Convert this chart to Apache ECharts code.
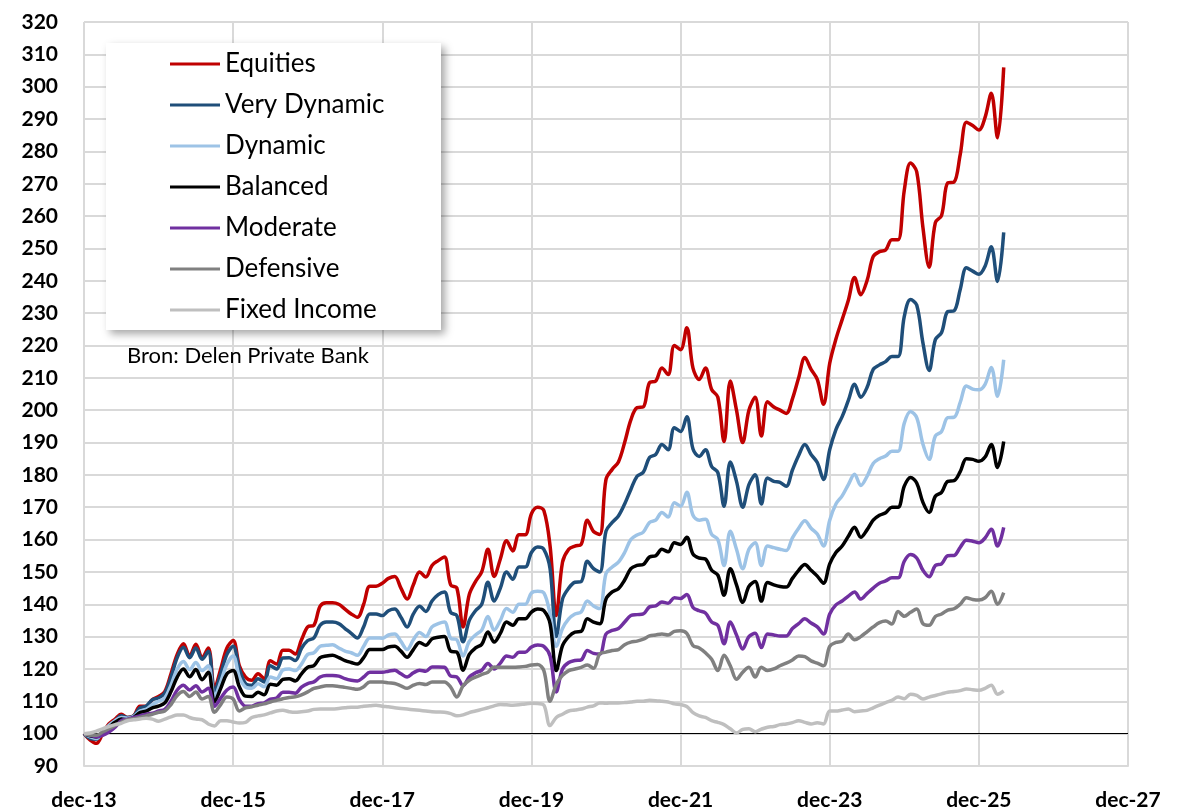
<!DOCTYPE html>
<html lang="nl">
<head>
<meta charset="UTF-8">
<title>Delen Private Bank - profielen</title>
<script src="https://cdn.jsdelivr.net/npm/echarts@6/dist/echarts.min.js"></script>
</head>
<body style="margin:0;background:#fff">
<div id="chart" style="width:1188px;height:811px;"></div>
<script>
// monthly index values, dec-13 = 100
const seriesNames = ['Equities', 'Very Dynamic', 'Dynamic', 'Balanced', 'Moderate', 'Defensive', 'Fixed Income'];
const seriesColors = ['#C00000', '#1F4E79', '#9DC3E6', '#000000', '#7030A0', '#808080', '#BFBFBF'];

const equities = [
  100, 98, 97, 100, 103, 104.5, 106, 105, 105.5, 108.5, 108.5, 110.5,
  111.5, 113, 118.5, 124.5, 127.8, 124, 127.6, 123.5, 126.5, 114, 120, 126.5,
  128.8, 121, 117.5, 116.5, 118.5, 117, 122.5, 121.5, 125.8, 125.8, 124.6, 129,
  133, 133.5, 139.4, 140.5, 140.5, 140, 138.5, 137, 136, 140, 145.6, 145.6,
  146.5, 148, 148.6, 145, 141.6, 146, 150, 148.4, 152, 153.5, 154.6, 146,
  145, 133, 143, 147, 150, 157, 148.6, 154, 159.6, 156.5, 161.5, 161.5,
  168, 170, 169, 158, 136.5, 153, 157, 158, 158.5, 166, 162.5, 161.6,
  178.6, 181.7, 184, 190, 197, 200.8, 201, 208.5, 209, 213, 211, 220,
  218.7, 225.5, 213, 209.5, 213, 206.4, 204, 190.3, 209, 200, 190, 200,
  204, 192, 202.6, 201, 200, 199, 203.5, 210, 216.3, 212.6, 209.5, 201.8,
  214.5, 222, 228, 234, 241, 235.7, 240, 247.5, 249, 249.5, 252.7, 252.7,
  268, 276.4, 273.7, 256.5, 244.2, 258, 260.2, 270.3, 270.5, 279, 289, 288,
  286.6, 290.5, 298, 284.2, 306
];
const veryDynamic = [
  100, 98.5, 98.3, 100.5, 102.5, 104, 105.5, 105, 105.5, 108, 108.5, 110.5,
  111, 112.5, 117.5, 123.5, 126.7, 123.5, 126.5, 123, 125.5, 113, 118.5, 124.5,
  127, 120, 115.5, 115, 117, 116, 121, 120, 123.4, 123.5, 122.6, 126.4,
  128.8, 129.6, 133.5, 134.5, 134.5, 134, 132.5, 131, 129.6, 133, 137, 137,
  136.5, 138, 138.5, 136, 133, 137, 139.4, 137.8, 141, 143, 143.8, 137.5,
  136.5, 128.4, 135, 138, 140, 146.8, 141, 145, 150, 147.7, 151.5, 151.5,
  156, 157.7, 157, 151, 130, 141.6, 145, 146.8, 147, 153.3, 151, 150,
  162.6, 165.3, 167.3, 171, 175.5, 179.6, 180.8, 185.4, 186.3, 189.4, 187.8, 194.6,
  193.4, 198, 188, 185.7, 187.8, 182.6, 180.7, 170.3, 184, 178, 170, 177,
  180, 171, 179, 178, 177.7, 176.5, 181.5, 186, 189.4, 186.3, 183.8, 178.6,
  187.8, 194, 198, 203, 208, 204, 207, 212.6, 214, 215, 216.6, 216.6,
  229, 234.2, 232.5, 220.8, 212.3, 221.8, 224, 230.5, 230.7, 237.3, 244, 243,
  242, 244.5, 250.5, 239.8, 255
];
const dynamic = [
  100, 99, 98.5, 100.5, 102.5, 104, 105, 104.8, 105.3, 107, 107.5, 109,
  110, 111, 115, 120, 122.3, 119.8, 122, 119.5, 121, 111.5, 116, 121.5,
  124, 117.5, 114.4, 114, 115.4, 114.5, 117.5, 117, 119.7, 120, 119.5, 121.5,
  124.5, 125, 127, 127.3, 127.5, 126.5, 125.5, 125, 124.2, 127, 129.6, 129.6,
  129.5, 130.5, 130.8, 128.5, 126, 129, 131.3, 130, 133, 134, 134.5, 129.5,
  129, 124, 128.5, 130.5, 132, 136.2, 132, 135, 138.7, 137.5, 140, 140,
  143.5, 144, 143.5, 137, 127, 132.5, 135.5, 137, 137.6, 141, 139.5, 138.7,
  149.5, 151.5, 153, 156, 160, 161.4, 162.3, 165.3, 166, 168.4, 167, 171.4,
  170.3, 174.6, 167.5, 166, 166.3, 161.6, 160, 152, 162.6, 157, 151, 157,
  159, 152, 158, 157.5, 157, 156.6, 160.5, 163.5, 165.8, 163.5, 161.7, 158,
  166, 171, 173.5, 177, 180.2, 176.7, 179.5, 183.5, 185, 185.8, 187.3, 187.3,
  196, 199.6, 197.7, 189.5, 184.8, 192, 193.4, 197.7, 197.8, 202.4, 207.5, 206.5,
  206.3, 208, 213.2, 204.3, 215.6
];
const balanced = [
  100, 99.3, 99, 100.5, 102, 103.5, 104.5, 104.3, 105, 106.5, 107, 108,
  108.5, 109.5, 113, 117.5, 120, 117.6, 119.8, 116.7, 119, 109.8, 114, 118.5,
  119.5, 114.5, 111.6, 111.5, 112.8, 112, 115.3, 115, 116.8, 117, 116.3, 118.5,
  120.5, 121, 123.5, 124, 124.2, 123.5, 122.6, 122, 121.5, 123.5, 126, 126,
  126, 126.8, 127, 125.5, 123.6, 126, 128.2, 127.3, 129.3, 129.8, 130, 125.5,
  125.2, 119.6, 124.5, 126.5, 127.6, 131.4, 128.3, 131, 134.5, 133.5, 135.5, 135.5,
  137.6, 138.5, 138, 134, 119.5, 127.2, 130, 131.4, 131.6, 135.5, 134.5, 134,
  141.6, 143.8, 144.8, 147.5, 151, 152, 152.3, 154.6, 155, 157, 156.2, 159,
  158.5, 160.7, 155.5, 154.3, 154, 150.5, 149, 142.8, 151, 146, 140.6, 145.5,
  147, 141, 146.7, 146, 145.5, 145.3, 148, 150.5, 152.3, 150.5, 148.7, 146.5,
  152.5, 156, 158, 161, 163.8, 160.7, 163, 166, 167.5, 168.3, 170, 170,
  176.5, 179.2, 177.5, 171.5, 168.4, 173.4, 174.6, 178, 178.2, 181, 185, 184.8,
  184.2, 185.5, 189.4, 182.3, 190.3
];
const moderate = [
  100, 99.5, 99, 99.5, 100.5, 102, 104, 104.5, 105, 105.5, 106, 106.3,
  107, 107.5, 110, 113.5, 115, 113.5, 114.8, 112.9, 114, 108.5, 111, 113.5,
  114.4, 110.5, 108.5, 108.5, 109.3, 109.5, 110.7, 111, 112.8, 112.8, 112.5, 114.4,
  115.5, 116, 117.5, 118, 118, 117.8, 117, 116.5, 116.3, 117.5, 119, 119,
  119, 119.3, 119.6, 118.5, 117.5, 118.8, 119.6, 119.3, 120.6, 120.6, 120.5, 117.8,
  117.5, 114.8, 117.5, 118.8, 119.6, 121.7, 120, 121.8, 124, 123.6, 125.2, 125.2,
  126.8, 127.4, 127, 124, 112.9, 120, 122, 122.6, 122.8, 125.7, 124.8, 124.6,
  130.8, 131.9, 132.5, 134.5, 136.5, 136.8, 137, 139.2, 139.5, 140.7, 140.3, 142,
  141.8, 143, 139, 138, 137.3, 134.5, 133.5, 127.8, 134.5, 130.5, 126.2, 130,
  131, 126.6, 130.8, 130.5, 130.2, 130.2, 132.5, 134, 135.5, 134.2, 133, 130.8,
  137, 139.8, 141, 142.5, 143.8, 141.6, 143.3, 145, 146.5, 147.2, 148.2, 148.2,
  153.3, 155.4, 154.3, 150.5, 148.5, 152, 152.5, 155, 155.1, 157.6, 159.8, 159.5,
  159, 160.5, 163.2, 158, 163.8
];
const defensive = [
  100, 99.5, 99.5, 100.5, 101.5, 102.5, 103.5, 104.3, 104.6, 105, 105.5, 106,
  106.6, 107, 109, 111.8, 113, 111.5, 112.9, 110.7, 111.5, 106.6, 109, 111.3,
  110.7, 107, 108, 108.3, 108.8, 109.2, 109.8, 110.3, 110.8, 111.2, 111.4, 112,
  112.9, 114, 114.4, 114.8, 114.8, 114.6, 114.3, 114, 113.7, 114.5, 116, 116,
  116, 115.7, 115.5, 114.8, 114, 115, 115.5, 115.2, 116, 116, 116, 114.4,
  111.3, 114.8, 116.5, 117.5, 118.3, 119, 120.6, 120.5, 120.5, 120.5, 120.6, 120.8,
  121.2, 121.4, 119.5, 110, 115.3, 118, 119.5, 120, 120.5, 121.2, 120.2, 124.7,
  125.2, 125.7, 126, 127.5, 128.3, 128.6, 129.2, 130.2, 130.5, 130.8, 130.5, 131.6,
  131.8, 131, 127.2, 126.5, 125, 123, 119.5, 124.2, 121, 116.8, 119, 120.5,
  117.5, 120.5, 119.5, 120, 121, 121.8, 122.8, 124, 123.8, 122.5, 121.8, 121,
  127, 128.2, 128.6, 130.8, 129, 130, 131.5, 133, 134.3, 134.8, 133.9, 137.8,
  136.3, 137.5, 138.5, 134, 133.5, 136.2, 137, 138.2, 138.6, 140, 142, 141.5,
  141.3, 142, 144, 140, 143.6
];
const fixedIncome = [
  100, 100.2, 100.8, 101.5, 102.2, 102.8, 103.2, 104, 104.3, 104.5, 104.8, 104.5,
  103.8, 104.5, 105.2, 105.8, 105.8, 105, 104.5, 104.3, 103, 102.4, 104, 104,
  103.6, 103.3, 103.5, 105, 105.5, 105.8, 106.4, 107, 107.2, 106.8, 106.6, 106.8,
  107, 107.5, 107.6, 107.6, 107.6, 107.8, 108, 108.2, 108.2, 108.5, 108.6, 108.8,
  108.5, 108.3, 108, 107.8, 107.6, 107.4, 107.2, 107, 106.8, 106.7, 106.6, 106.2,
  105.5, 105.8, 106.5, 107, 107.5, 108, 108.6, 109, 108.9, 108.8, 108.9, 109.2,
  109.4, 109.3, 108.8, 102.5, 105, 106, 107, 107.3, 107.6, 108.2, 108.6, 109.5,
  109.4, 109.5, 109.5, 109.6, 109.8, 110, 110, 110.3, 110.2, 110, 109.8, 109.2,
  109, 108.4, 106.5, 105.5, 105, 104, 103.5, 102.8, 101.5, 100.2, 101.3, 101.5,
  100.6, 101.4, 102, 102.2, 102.8, 103, 103.4, 104, 103.5, 103, 103.4, 103,
  107, 107, 107.3, 107.6, 106.8, 107, 107.2, 108, 108.8, 109.6, 110.3, 111.3,
  110.8, 112.2, 111.8, 110.7, 111.3, 111.8, 112.3, 112.8, 113, 113.3, 113.8, 113.6,
  113.4, 114, 115, 112.2, 113.2
];

// month categories dec-13 .. dec-27
const monthNames = ['jan', 'feb', 'mrt', 'apr', 'mei', 'jun', 'jul', 'aug', 'sep', 'okt', 'nov', 'dec'];
const months = [];
for (let i = 0; i <= 168; i++) {
  const m = (11 + i) % 12;
  const y = 13 + Math.floor((11 + i) / 12);
  months.push(monthNames[m] + '-' + y);
}

const allData = [equities, veryDynamic, dynamic, balanced, moderate, defensive, fixedIncome];
const font = 'Lato';

const chart = echarts.init(document.getElementById('chart'));
const series = seriesNames.map((name, k) => ({
  name: name,
  type: 'line',
  data: allData[k],
  smooth: 0.35,
  symbol: 'none',
  lineStyle: { color: seriesColors[k], width: 3.5 },
  itemStyle: { color: seriesColors[k] },
  z: 3 + k
}));
// base line at 100
series[0].markLine = {
  silent: true,
  symbol: 'none',
  label: { show: false },
  lineStyle: { color: '#000', width: 1.2, type: 'solid' },
  data: [{ yAxis: 100 }]
};

chart.setOption({
  animation: false,
  textStyle: { fontFamily: font },
  grid: { left: 84, right: 60, top: 22, bottom: 44 },
  title: {
    text: 'Bron: Delen Private Bank',
    left: 122, top: 340,
    textStyle: { fontFamily: font, fontSize: 22, fontWeight: 'normal', color: '#000' }
  },
  graphic: [{
    type: 'rect',
    z: 10,
    shape: { x: 106, y: 43, width: 335, height: 287 },
    style: {
      fill: '#fff',
      shadowBlur: 8,
      shadowOffsetX: 4,
      shadowOffsetY: 4,
      shadowColor: 'rgba(0,0,0,0.35)'
    }
  }],
  legend: {
    z: 20,
    orient: 'vertical',
    left: 165, top: 44,
    icon: 'rect',
    itemWidth: 50,
    itemHeight: 3,
    itemGap: 11,
    itemTextGap: 5,
    data: seriesNames,
    textStyle: { fontFamily: font, fontSize: 26, color: '#000', lineHeight: 30 }
  },
  xAxis: {
    type: 'category',
    data: months,
    boundaryGap: false,
    axisLine: { lineStyle: { color: '#D9D9D9', width: 2 } },
    axisTick: { show: false },
    axisLabel: {
      interval: 23,
      margin: 24,
      color: '#000',
      fontFamily: font,
      fontSize: 21,
      fontWeight: 'bold'
    },
    splitLine: { show: true, interval: 23, lineStyle: { color: '#D9D9D9', width: 2 } }
  },
  yAxis: {
    type: 'value',
    min: 90,
    max: 320,
    interval: 10,
    axisLine: { show: false },
    axisTick: { show: false },
    axisLabel: {
      margin: 26,
      color: '#000',
      fontFamily: font,
      fontSize: 21,
      fontWeight: 'bold'
    },
    splitLine: { lineStyle: { color: '#D9D9D9', width: 2 } }
  },
  series: series
});
</script>
</body>
</html>
